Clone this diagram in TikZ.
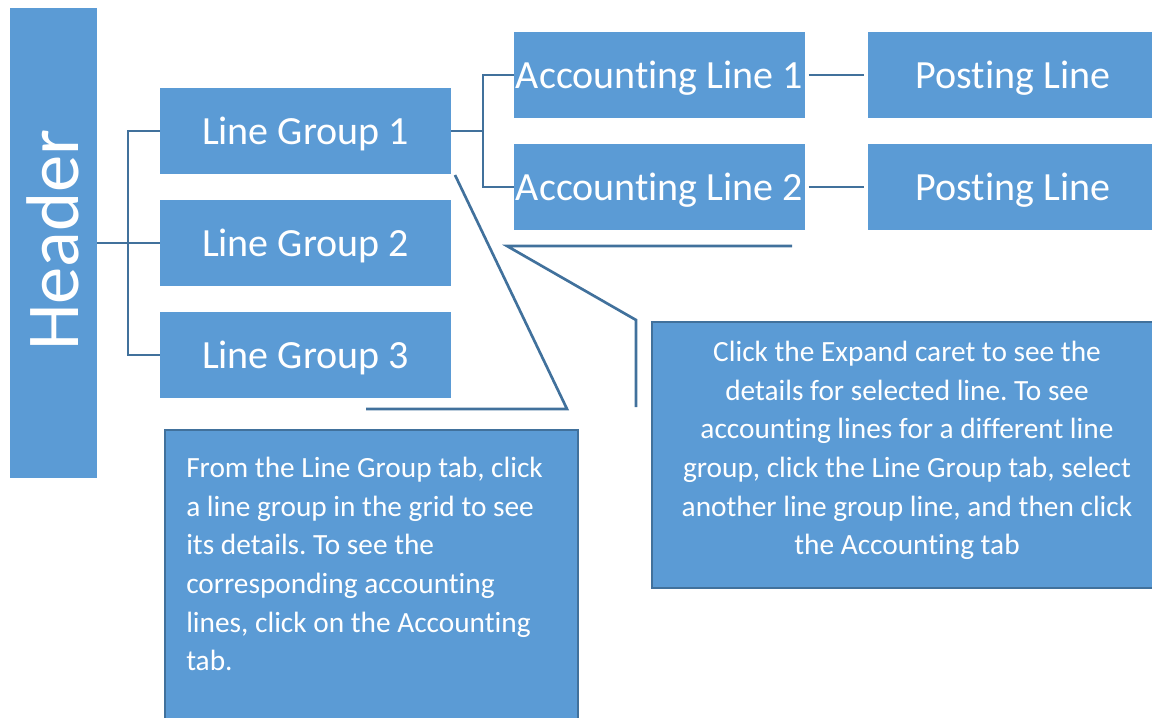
\documentclass[tikz,border=0pt]{standalone}
\usepackage{fontspec}
\setmainfont{Carlito}[Ligatures=NoCommon]
\frenchspacing
\definecolor{boxblue}{HTML}{5B9BD5}
\definecolor{lineblue}{HTML}{41719C}
\begin{document}
\begin{tikzpicture}[x=0.75pt,y=-0.75pt,
  box/.style={fill=boxblue, text=white, inner sep=0pt, text depth=0pt, minimum width=218.25pt, minimum height=64.5pt, font=\fontsize{30}{36}\selectfont},
  conn/.style={draw=lineblue, line width=2pt},
  callout/.style={fill=boxblue, draw=lineblue, line width=2pt, inner sep=0pt},
  ctext/.style={text=white, inner sep=0pt, font=\fontsize{22}{29}\selectfont}]
\useasboundingbox (0,0) rectangle (1152,717);

% header
\node[fill=boxblue, inner sep=0pt, minimum width=65.25pt, minimum height=352.5pt] (hdr) at (53.5,243) {};
\node[rotate=90, text=white, inner sep=0pt, font=\fontsize{56}{60}\selectfont] (hdrtext) at (53,240) {Header};

% line groups
\node[box] (lg1) at (305.5,131) {Line Group 1};
\node[box] (lg2) at (305.5,243) {Line Group 2};
\node[box] (lg3) at (305.5,355) {Line Group 3};

% accounting lines
\node[box] (al1) at (659.5,75) {Accounting Line 1};
\node[box] (al2) at (659.5,187) {Accounting Line 2};

% posting lines
\node[box] (pl1) at (1013,75) {Posting Line};
\node[box] (pl2) at (1013,187) {Posting Line};

% connectors
\coordinate (hj) at (128,243);
\draw[conn] (hdr.east) -- (hj);
\draw[conn] (lg1.west) -| (hj) |- (lg3.west);
\draw[conn] (hj) -- (lg2.west);

\coordinate (aj) at (483,131);
\draw[conn] (lg1.east) -- (aj);
\draw[conn] (al1.west) -| (aj) |- (al2.west);

\draw[conn, shorten <=2.5pt, shorten >=2.5pt] (al1.east) -- (pl1.west);
\draw[conn, shorten <=2.5pt, shorten >=2.5pt] (al2.east) -- (pl2.west);

% callout 1
\node[callout, minimum width=309.75pt, minimum height=228.75pt] (cb1) at (371.5,582.5) {};
\node[ctext, anchor=north west, align=left] (ct1) at (186,457) {From the Line Group tab, click\\a line group in the grid to see\\its details. To see the\\corresponding accounting\\lines, click on the Accounting\\tab.};
\coordinate (c1a) at (366,409);
\coordinate (c1b) at (567,409);
\coordinate (c1t) at (455,175);
\draw[conn, line join=miter] (c1a) -- (c1b) -- (c1t);

% callout 2
\node[callout, minimum width=382.5pt, minimum height=199.5pt] (cb2) at (907,455) {};
\node[ctext, anchor=north, align=center] (ct2) at (907,341) {Click the Expand caret to see the\\details for selected line. To see\\accounting lines for a different line\\group, click the Line Group tab, select\\another line group line, and then click\\the Accounting tab};
\coordinate (c2a) at (636,407);
\coordinate (c2b) at (636,320);
\coordinate (c2c) at (507,246);
\coordinate (c2d) at (792,246);
\draw[conn, line join=miter] (c2a) -- (c2b) -- (c2c) -- (c2d);
\end{tikzpicture}
\end{document}
